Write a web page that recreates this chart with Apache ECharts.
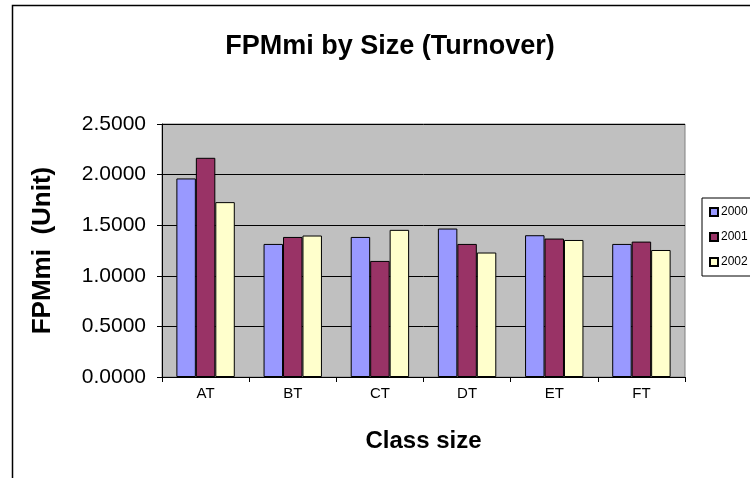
<!DOCTYPE html>
<html><head><meta charset="utf-8">
<script src="https://cdn.jsdelivr.net/npm/echarts@6/dist/echarts.min.js"></script>
<style>html,body{margin:0;padding:0;background:#fff}#c{width:750px;height:478px}</style>
</head><body><div id="c"></div>
<script>
const categories = ['AT','BT','CT','DT','ET','FT'];
const seriesNames = ['2000','2001','2002'];
const v2000 = [1.962, 1.315, 1.384, 1.467, 1.401, 1.315];
const v2001 = [2.166, 1.384, 1.147, 1.315, 1.368, 1.338];
const v2002 = [1.728, 1.398, 1.454, 1.230, 1.354, 1.255];
const colors = ['#9999FF','#993366','#FFFFCC'];
const F = 'Liberation Sans, Arial, sans-serif';

const chart = echarts.init(document.getElementById('c'));
const vals = [v2000, v2001, v2002];
chart.setOption({
  animation: false,
  graphic: [
    {type:'rect', shape:{x:12.5,y:5.5,width:800,height:500}, style:{fill:'none', stroke:'#000', lineWidth:1.5}, z:-10},
    {type:'rect', shape:{x:162,y:124,width:523,height:253}, style:{fill:'#C0C0C0', stroke:'#808080', lineWidth:1}, z:-5}
  ],
  title: {text:'FPMmi by Size (Turnover)', left:385, top:28, textAlign:'center',
    textStyle:{fontFamily:F, fontSize:27, fontWeight:'bold', color:'#000'}},
  legend: {orient:'vertical', left:702, top:198, itemWidth:8, itemHeight:8, itemGap:13,
    backgroundColor:'#fff', borderColor:'#000', borderWidth:1, padding:[8,10,8,7],
    icon:'rect', textStyle:{fontFamily:F, fontSize:12, color:'#000', padding:[0,0,0,-2]}, data: seriesNames},
  grid: {left:162, top:124, width:523, height:253, containLabel:false},
  xAxis: {type:'category', data:categories,
    name:'Class size', nameLocation:'middle', nameGap:52,
    nameTextStyle:{fontFamily:F, fontSize:24, fontWeight:'bold', color:'#000'},
    axisLine:{lineStyle:{color:'#000', width:1}},
    axisTick:{show:true, length:5, lineStyle:{color:'#000'}},
    axisLabel:{fontFamily:F, fontSize:15, color:'#000', margin:9}},
  yAxis: {type:'value', min:0, max:2.5, interval:0.5,
    name:'FPMmi  (Unit)', nameLocation:'middle', nameGap:106, nameRotate:90,
    nameTextStyle:{fontFamily:F, fontSize:26, fontWeight:'bold', color:'#000'},
    axisLine:{show:true, lineStyle:{color:'#000', width:1}},
    axisTick:{show:true, length:5, lineStyle:{color:'#000'}},
    splitLine:{show:true, lineStyle:{color:'#000', width:1}},
    axisLabel:{fontFamily:F, fontSize:21, color:'#000', margin:16, formatter:v=>v.toFixed(4)}},
  series: seriesNames.map((n,i)=>({
    name:n, type:'bar', data: vals[i], barGap:'0%', barCategoryGap:'33%',
    itemStyle:{color:colors[i], borderColor:'#000', borderWidth:1}
  }))
});
</script></body></html>
